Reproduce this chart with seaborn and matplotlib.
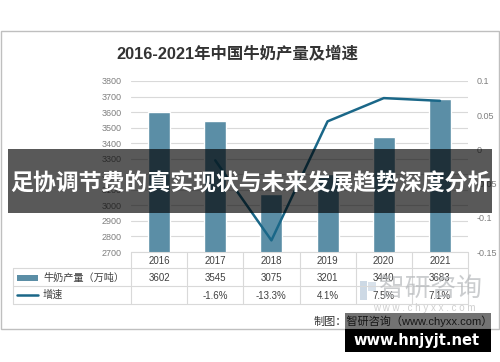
import numpy as np
import pandas as pd
import matplotlib
matplotlib.use("Agg")
import matplotlib.pyplot as plt
import seaborn as sns
from matplotlib.patches import Rectangle
from matplotlib.lines import Line2D
from matplotlib.transforms import blended_transform_factory

# ---------------- data ----------------
years = ["2016", "2017", "2018", "2019", "2020", "2021"]
production = [3602, 3545, 3075, 3201, 3440, 3683]
growth = [np.nan, -0.016, -0.133, 0.041, 0.075, 0.071]
growth_labels = ["", "-1.6%", "-13.3%", "4.1%", "7.5%", "7.1%"]
left_ticks = [2700, 2800, 2900, 3000, 3100, 3200, 3300, 3400, 3500, 3600, 3700, 3800]
right_ticks = [-0.15, -0.1, -0.05, 0, 0.05, 0.1]
right_tick_labels = ["-0.15", "-0.1", "-0.05", "0", "0.05", "0.1"]
series_names = ["牛奶产量（万吨）", "增速"]
title = "2016-2021年中国牛奶产量及增速"
banner = "足协调节费的真实现状与未来发展趋势深度分析"
source = "制图：智研咨询（www.chyxx.com）"
wm_name = "智研咨询"
wm_url = "w w w . c h y x x . c o m"
site = "www.hnjyjt.net"

bar_color = "#5b8ea6"
line_color = "#1a6788"

W, H = 500, 362
def fx(px): return px / W
def fy(py): return 1 - py / H

sns.set_theme(style="white")
plt.rcParams['font.family'] = ['Liberation Sans', 'Noto Sans CJK SC', 'DejaVu Sans']

df = pd.DataFrame({"year": years, "production": production,
                   "pos": np.arange(len(years)), "growth": growth})

fig = plt.figure(figsize=(5, 3.62), dpi=100)
ax = fig.add_axes([fx(131), fy(252), fx(468) - fx(131), fy(81) - fy(252)])

sns.barplot(data=df, x="year", y="production", color=bar_color, saturation=1,
            width=0.39, ax=ax)
ax.set_ylim(2700, 3800)
ax.set_yticks(left_ticks)
ax.yaxis.grid(True, color="#d9d9d9", lw=0.8)
ax.set_axisbelow(True)
ax.set_xticks([])
ax.set_xlabel("")
ax.set_ylabel("")
for s in ax.spines.values():
    s.set_visible(False)
ax.tick_params(axis="y", length=0, pad=6.5, labelsize=6.5, labelcolor="#7f7f7f")

ax2 = ax.twinx()
sns.lineplot(data=df.dropna(), x="pos", y="growth", color=line_color, lw=1.8, ax=ax2)
ax2.set_ylim(-0.15, 0.1)
ax2.set_yticks(right_ticks)
ax2.set_yticklabels(right_tick_labels)
ax2.grid(False)
ax2.set_ylabel("")
ax2.set_xlabel("")
for s in ax2.spines.values():
    s.set_visible(False)
ax2.tick_params(axis="y", length=0, pad=6.5, labelsize=6.5, labelcolor="#7f7f7f")
ax.set_xlim(-0.5, len(years) - 0.5)
ax2.set_xlim(-0.5, len(years) - 0.5)
ax2.set_xticks([])

# outer border
fig.add_artist(Rectangle((fx(0.5), fy(329)), fx(499) - fx(0.5), fy(30.5) - fy(329),
                         transform=fig.transFigure, fill=False, ec="#bfbfbf", lw=1))

# title
fig.text(fx(237), fy(53), title, ha="center", va="center", fontsize=11.8,
         fontweight="bold", color="#333333")

# ---------------- table ----------------
tr = blended_transform_factory(ax.transData, fig.transFigure)
grid_c = "#d9d9d9"
n = len(years)
x_lo, x_hi = -0.5, n - 0.5
fig.add_artist(Line2D([x_lo, x_hi], [fy(252)] * 2, transform=tr, color=grid_c, lw=0.8))
for py in (268, 286, 304):
    fig.add_artist(Line2D([fx(13), fx(131)], [fy(py)] * 2, transform=fig.transFigure, color=grid_c, lw=0.8))
    fig.add_artist(Line2D([x_lo, x_hi], [fy(py)] * 2, transform=tr, color=grid_c, lw=0.8))
fig.add_artist(Line2D([fx(13), fx(13)], [fy(268), fy(304)], transform=fig.transFigure, color=grid_c, lw=0.8))
for i in range(n + 1):
    fig.add_artist(Line2D([x_lo + i] * 2, [fy(252), fy(304)], transform=tr, color=grid_c, lw=0.8))

for i in range(n):
    fig.text(i, fy(260.5), years[i], transform=tr, ha="center", va="center", fontsize=7, color="#404040")
    fig.text(i, fy(278), str(production[i]), transform=tr, ha="center", va="center", fontsize=7, color="#404040")
    fig.text(i, fy(296), growth_labels[i], transform=tr, ha="center", va="center", fontsize=7, color="#404040")

fig.add_artist(Rectangle((fx(17), fy(280.5)), fx(38) - fx(17), 6 / H, transform=fig.transFigure,
                         color=bar_color, lw=0))
fig.add_artist(Line2D([fx(17), fx(38)], [fy(295)] * 2, transform=fig.transFigure, color=line_color, lw=1.8))
fig.text(fx(43), fy(277.5), series_names[0], ha="left", va="center", fontsize=7.3, color="#404040")
fig.text(fx(43), fy(295), series_names[1], ha="left", va="center", fontsize=7.3, color="#404040")

# watermark
fig.add_artist(Rectangle((fx(360), fy(300)), 7 / W, 19 / H, transform=fig.transFigure,
                         color="#b9cadb", alpha=0.7, lw=0))
fig.add_artist(Rectangle((fx(368), fy(291)), 8 / W, 9 / H, transform=fig.transFigure,
                         color="#c9d6e3", alpha=0.7, lw=0))
fig.text(fx(431), fy(289), wm_name, ha="center", va="center", fontsize=18.5, color="#b5b8bb", alpha=0.7)
fig.text(fx(424), fy(308), wm_url, ha="center", va="center", fontsize=7, color="#cfcfcf")

# source
fig.text(fx(493), fy(321), source, ha="right", va="center", fontsize=8, color="#333333")
fig.add_artist(Rectangle((fx(345), fy(329)), fx(491) - fx(345), 16 / H, transform=fig.transFigure,
                         color="black", alpha=0.55, lw=0, zorder=5))
fig.add_artist(Rectangle((fx(345), fy(352)), fx(491) - fx(345), 23 / H, transform=fig.transFigure,
                         color="black", lw=0, zorder=5))
fig.text(fx(417), fy(340.5), site, ha="center", va="center", fontsize=10.5, fontweight="bold",
         color="white", family=["DejaVu Sans"], zorder=6)

# banner
fig.add_artist(Rectangle((fx(8), fy(213)), fx(492) - fx(8), 64 / H, transform=fig.transFigure,
                         color="black", alpha=0.65, lw=0, zorder=5))
fig.text(fx(250), fy(183), banner, ha="center", va="center", fontsize=16.5, fontweight="bold",
         color="white", family=["Noto Sans CJK SC", "DejaVu Sans"], zorder=6)

fig.savefig("out.png", dpi=100)
